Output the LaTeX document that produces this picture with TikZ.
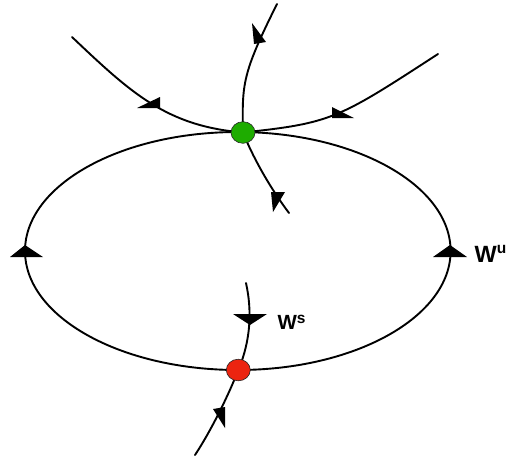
\documentclass[tikz,border=0pt]{standalone}
\usepackage{fontspec}
\newfontfamily\labelfont{Liberation Sans}
\usetikzlibrary{shapes.geometric}
\definecolor{dotgreen}{RGB}{30,172,0}
\definecolor{dotred}{RGB}{236,36,16}
\begin{document}
\begin{tikzpicture}[x=1pt,y=-1pt,
  flow/.style={line width=1.9pt, line cap=round},
  head/.style={fill=black},
  dot/.style={ellipse, draw=black!85, line width=0.6pt, inner sep=0pt, minimum width=24pt, minimum height=21.6pt},
  wlabel/.style={inner sep=0pt, anchor=base west, font=\labelfont\bfseries}]
\useasboundingbox (0,0) rectangle (509,459);
% equilibria positions
\coordinate (g) at (243,132.5);
\coordinate (r) at (238.3,370);
% free ends of the trajectories
\coordinate (ul) at (72,37);
\coordinate (ur) at (438,54);
\coordinate (top) at (277,4);
\coordinate (lg) at (289,213);
\coordinate (ws) at (246,283);
\coordinate (br) at (195,455);
% homoclinic loop
\draw[flow] (237.8,251) ellipse [x radius=212.8pt, y radius=119pt];
% trajectories into the green point
\draw[flow] (ul) .. controls (132,94) and (167,126) .. (g);
\draw[flow] (ur) .. controls (338,119) and (332,123) .. (g);
\draw[flow] (top) .. controls (242,74) and (242,84) .. (g);
\draw[flow] (g) .. controls (252,155) and (268,185) .. (lg);
% stable manifold of the red point
\draw[flow] (ws) .. controls (252,310) and (251,340) .. (r);
\draw[flow] (r) .. controls (229,394) and (211.5,430) .. (br);
% arrowheads
\fill[head] (10,257) -- (25,245) -- (43,257) -- cycle;
\fill[head] (433,257) -- (450,245) -- (467,257) -- cycle;
\fill[head] (233,314) -- (267,314) -- (250,325) -- cycle;
\fill[head] (137,108) -- (160,97) -- (160,108) -- cycle;
\fill[head] (332,107) -- (332,118) -- (354,118) -- cycle;
\fill[head] (252,23) -- (254,44) -- (266,42) -- cycle;
\fill[head] (271,192) -- (273,212) -- (285,192) -- cycle;
\fill[head] (213,409) -- (225,407) -- (225,428) -- cycle;
% equilibria
\node[dot, fill=dotgreen] (G) at (g) {};
\node[dot, fill=dotred] (R) at (r) {};
% labels
\node[wlabel] (Wu) at (474.5,262.3) {\fontsize{23.5}{23.5}\selectfont W\raisebox{8.6pt}{\fontsize{15.5}{15.5}\selectfont u}};
\node[wlabel] (Ws) at (277.3,329.3) {\fontsize{20.5}{20.5}\selectfont W\raisebox{6.3pt}{\fontsize{15.5}{15.5}\selectfont s}};
\end{tikzpicture}
\end{document}
